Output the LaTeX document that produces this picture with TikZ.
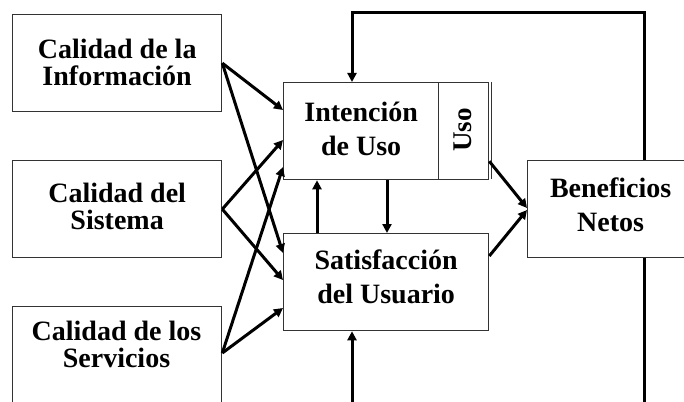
\documentclass[tikz,border=0pt]{standalone}
\usepackage{fontspec}
\setmainfont{Liberation Serif}
\usetikzlibrary{arrows.meta,calc}
\tikzset{
  box/.style={draw=black!80, line width=1.3pt, fill=white, anchor=north west, inner sep=0pt},
  lbl/.style={align=center, inner sep=0pt, font=\bfseries\fontsize{28}{28}\selectfont},
  conn/.style={line width=3pt, black, -{Triangle[width=9pt,length=9pt]}},
}
\begin{document}
\begin{tikzpicture}[x=1pt,y=-1pt]
\clip (0,0) rectangle (684,401);
\fill[white] (0,0) rectangle (684,401);
% boxes
\node[box, minimum width=209pt, minimum height=97pt] (b1) at (12,14) {};
\node[lbl] (b1t) at ($(b1.center)+(0,-1)$) {Calidad de la\\[-1pt]Información};
\node[box, minimum width=209pt, minimum height=97pt] (b2) at (12,160) {};
\node[lbl] (b2t) at ($(b2.center)+(0,-3)$) {Calidad del\\[-1pt]Sistema};
\node[box, minimum width=209pt, minimum height=100pt] (b3) at (12,306) {};
\node[lbl] (b3t) at (116.5,344) {Calidad de los\\[-1pt]Servicios};
\node[box, minimum width=155pt, minimum height=97pt] (int) at (283,82) {};
\node[lbl] (intt) at ($(int.center)+(0,-2)$) {Intención\\[6pt]de Uso};
\node[box, minimum width=50pt, minimum height=97pt] (uso) at (438,82) {};
\node[font=\bfseries\fontsize{27}{27}\selectfont, rotate=90] (usot) at (463,130) {Uso};
\draw[black!80, line width=1pt] (uso.north east) ++(2.5,0) -- ++(0,97);
\node[box, minimum width=205pt, minimum height=97pt] (sat) at (283,233) {};
\node[lbl] (satt) at ($(sat.center)+(0,-5)$) {Satisfacción\\[6pt]del Usuario};
\node[box, minimum width=166pt, minimum height=97pt] (ben) at (527,160) {};
\node[lbl] (bent) at ($(ben.center)+(0,-4)$) {Beneficios\\[6pt]Netos};
% left connectors
\draw[conn] (b1.east) -- ($(int.north west)+(0,28)$);
\draw[conn] (b1.east) -- ($(sat.north west)+(0,20)$);
\draw[conn] (b2.east) -- ($(int.north west)+(0,58)$);
\draw[conn] (b2.east) -- ($(sat.north west)+(0,47)$);
\coordinate (b3e) at ($(b3.north east)+(0,47)$);
\draw[conn] (b3e) -- ($(int.north west)+(0,85)$);
\draw[conn] (b3e) -- ($(sat.north west)+(0,75)$);
% middle
\draw[conn] ($(sat.north west)+(34,0)$) -- ($(int.south west)+(34,0)$);
\draw[conn] ($(int.south west)+(104,0)$) -- ($(sat.north west)+(104,0)$);
% to beneficios
\coordinate (u1) at ($(uso.south east)+(0,-19)$);
\draw[conn] (u1) -- ($(ben.north west)+(0,48)$);
\draw[conn] ($(sat.north east)+(0,23)$) -- ($(ben.north west)+(0,50)$);
% feedback loops
\coordinate (tl) at (644,13);
\coordinate (tr) at (352,13);
\draw[conn] (ben.north west -| tl) -- (tl) -- (tr) -- (int.north west -| tr);
\coordinate (bl) at (644,420);
\coordinate (br) at (352,420);
\draw[conn] (ben.south west -| bl) -- (bl) -- (br) -- (sat.south west -| br);
\end{tikzpicture}
\end{document}
